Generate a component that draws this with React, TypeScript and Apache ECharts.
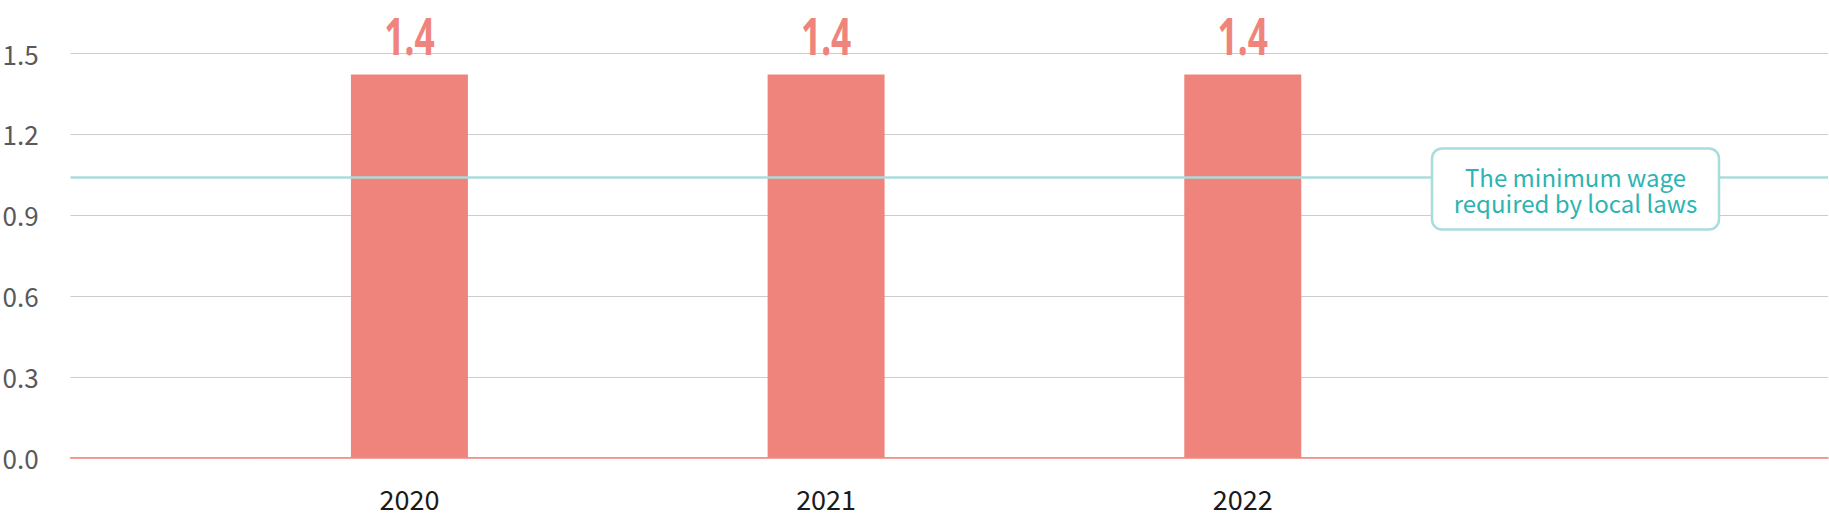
import React, { useEffect, useRef } from "react";
import * as echarts from "echarts";

const years = ["2020", "2021", "2022"];
const ratios = [1.42, 1.42, 1.42];
const minimumWage = 1.04;
const yTicks = { min: 0, max: 1.5, interval: 0.3 };
const noteText = ["The minimum wage", "required by local laws"];

const BAR = "#ef847c";
const TEAL_LINE = "#aadcdc";
const TEAL_TEXT = "#2db3b3";
const FONT = "'Noto Sans CJK JP', 'Noto Sans', sans-serif";

export default function App() {
  const ref = useRef<HTMLDivElement>(null);

  useEffect(() => {
    if (!ref.current) return;
    const chart = echarts.init(ref.current, undefined, { renderer: "svg" });
    const isInt = (v: number) => Math.abs(v - Math.round(v)) < 1e-6;
    chart.setOption({
      animation: false,
      grid: { left: 70.5, right: 1, top: 53, bottom: 70.3, outerBoundsMode: "none" },
      xAxis: {
        type: "value",
        min: -0.8134,
        max: 3.4045,
        splitLine: { show: false },
        axisTick: { show: false },
        axisLine: { show: true, onZero: false, lineStyle: { color: "#f1847c", width: 1.5 } },
        axisLabel: {
          show: true,
          margin: 27,
          fontSize: 27,
          fontFamily: FONT,
          color: "#1a1a1a",
          showMinLabel: false,
          showMaxLabel: false,
          formatter: (v: number) => (isInt(v) && years[Math.round(v)] ? years[Math.round(v)] : ""),
        },
      },
      yAxis: {
        type: "value",
        min: yTicks.min,
        max: yTicks.max,
        interval: yTicks.interval,
        axisLine: { show: false },
        axisTick: { show: false },
        splitLine: { show: true, lineStyle: { color: "#cccccc", width: 1 } },
        axisLabel: {
          align: "left",
          margin: 68,
          fontSize: 26,
          fontFamily: FONT,
          color: "#595959",
          formatter: (v: number) => v.toFixed(1),
        },
      },
      series: [
        {
          type: "line",
          data: [],
          z: 1,
          silent: true,
          markLine: {
            silent: true,
            symbol: "none",
            label: { show: false },
            lineStyle: { color: TEAL_LINE, width: 2.5, type: "solid" },
            data: [{ yAxis: minimumWage }],
          },
        },
        {
          type: "bar",
          z: 3,
          barWidth: 117,
          data: years.map((_, i) => [i, ratios[i]]),
          itemStyle: { color: BAR },
          label: { show: false },
        },
        {
          type: "custom",
          z: 4,
          silent: true,
          data: years.map((_, i) => [i, ratios[i]]),
          renderItem: (params: any, api: any) => {
            const v = api.value(1);
            const p = api.coord([api.value(0), v]);
            return {
              type: "text",
              x: p[0],
              y: p[1] - 40,
              scaleX: 0.68,
              style: {
                text: Number(v).toFixed(1),
                align: "center",
                verticalAlign: "middle",
                fontSize: 52,
                fontWeight: "bold",
                fontFamily: "'Noto Sans', sans-serif",
                fill: BAR,
              },
            };
          },
        },
      ],
      graphic: [
        {
          type: "group",
          z: 100,
          children: [
            {
              type: "rect",
              z: 100,
              shape: { x: 1432, y: 148.5, width: 287, height: 81, r: 10 },
              style: { fill: "#ffffff", stroke: TEAL_LINE, lineWidth: 2.5 },
            },
            {
              type: "text",
              z: 101,
              style: {
                text: noteText[0],
                x: 1575.5,
                y: 176,
                align: "center",
                verticalAlign: "middle",
                fontSize: 24,
                fontFamily: FONT,
                fill: TEAL_TEXT,
              },
            },
            {
              type: "text",
              z: 101,
              style: {
                text: noteText[1],
                x: 1575.5,
                y: 202,
                align: "center",
                verticalAlign: "middle",
                fontSize: 24,
                fontFamily: FONT,
                fill: TEAL_TEXT,
              },
            },
          ],
        },
      ],
    });
    return () => chart.dispose();
  }, []);

  return (
    <div
      ref={ref}
      style={{ position: "absolute", left: 0, top: 0, width: 1829, height: 528 }}
    />
  );
}
